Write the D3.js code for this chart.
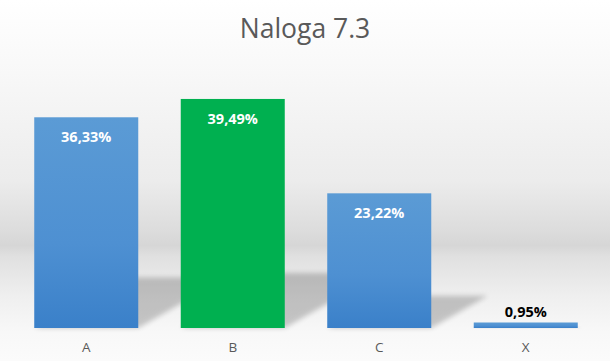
<!DOCTYPE html>
<html>
<head>
<meta charset="utf-8">
<script src="https://cdn.jsdelivr.net/npm/d3@7"></script>
<style>
  body { margin: 0; background: #fff; }
  svg { display: block; font-family: "Open Sans", sans-serif; }
</style>
</head>
<body>
<div id="wrapper"></div>
<script>
const categories = ["A", "B", "C", "X"];
const values = [36.33, 39.49, 23.22, 0.95];
const valueLabels = ["36,33%", "39,49%", "23,22%", "0,95%"];
const barColors = ["blue", "green", "blue", "blue"];

function buildChart() {
    const dimension = {
        width: 610,
        height: 361,
        margin: { top: 67, left: 13, bottom: 33, right: 11 }
    };
    dimension.boundedWidth = dimension.width - dimension.margin.left - dimension.margin.right;
    dimension.boundedHeight = dimension.height - dimension.margin.top - dimension.margin.bottom;

    const svg = d3.select("#wrapper").append("svg")
        .attr("width", dimension.width)
        .attr("height", dimension.height);

    const defs = svg.append("defs");

    // background: white at top, grey band, light floor
    const bg = defs.append("linearGradient")
        .attr("id", "bg").attr("x1", 0).attr("y1", 0).attr("x2", 0).attr("y2", 1);
    [[0, "#ffffff"], [0.2, "#f8f8f8"], [0.5, "#ececec"], [0.64, "#dcdcdc"], [0.68, "#d6d6d6"],
     [0.71, "#e0e0e0"], [0.82, "#efefef"], [0.92, "#f8f8f8"], [1, "#fbfbfb"]]
        .forEach(s => bg.append("stop").attr("offset", s[0]).attr("stop-color", s[1]));

    const blue = defs.append("linearGradient")
        .attr("id", "blue").attr("x1", 0).attr("y1", 0).attr("x2", 0).attr("y2", 1);
    blue.append("stop").attr("offset", 0).attr("stop-color", "#5b9bd5");
    blue.append("stop").attr("offset", 0.6).attr("stop-color", "#4e90d2");
    blue.append("stop").attr("offset", 1).attr("stop-color", "#3a80c9");

    defs.append("filter").attr("id", "blur")
        .attr("x", "-50%").attr("y", "-50%").attr("width", "200%").attr("height", "200%")
        .append("feGaussianBlur").attr("stdDeviation", 2.5);

    svg.append("rect")
        .attr("width", dimension.width)
        .attr("height", dimension.height)
        .attr("fill", "url(#bg)");

    svg.append("text")
        .attr("x", dimension.width / 2)
        .attr("y", 38)
        .attr("text-anchor", "middle")
        .attr("fill", "#595959")
        .style("font-size", "26.5px")
        .text("Naloga 7.3");

    const bounded = svg.append("g")
        .attr("transform", `translate(${dimension.margin.left}, ${dimension.margin.top})`);

    const xScaler = d3.scaleBand()
        .domain(categories)
        .range([0, dimension.boundedWidth])
        .paddingInner(0.29)
        .paddingOuter(0.145);

    const yScaler = d3.scaleLinear()
        .domain([0, 45])
        .range([dimension.boundedHeight, 0]);

    const data = categories.map((c, i) => ({ c, v: values[i], label: valueLabels[i], color: barColors[i] }));
    const base = yScaler(0);
    const bw = xScaler.bandwidth();

    // floor shadows
    bounded.append("g").selectAll("path")
        .data(data)
        .join("path")
        .attr("d", d => {
            const h = base - yScaler(d.v);
            const x0 = xScaler(d.c);
            const sh = h * 0.24;
            const dx = h * 0.42;
            return `M${x0},${base} L${x0 + bw},${base} L${x0 + bw + dx},${base - sh} L${x0 + dx},${base - sh} Z`;
        })
        .attr("fill", "#000")
        .attr("opacity", 0.2)
        .attr("filter", "url(#blur)");

    bounded.append("g").selectAll("rect")
        .data(data)
        .join("rect")
        .attr("x", d => xScaler(d.c))
        .attr("y", d => yScaler(d.v))
        .attr("width", bw)
        .attr("height", d => base - yScaler(d.v))
        .attr("fill", d => d.color === "green" ? "#00b050" : "url(#blue)");

    bounded.append("g").selectAll("text")
        .data(data)
        .join("text")
        .attr("x", d => xScaler(d.c) + bw / 2)
        .attr("y", d => {
            const inside = base - yScaler(d.v) > 30;
            return inside ? yScaler(d.v) + 25 : yScaler(d.v) - 5;
        })
        .attr("text-anchor", "middle")
        .attr("fill", d => base - yScaler(d.v) > 30 ? "#ffffff" : "#000000")
        .style("font-size", "14.5px")
        .style("font-weight", "bold")
        .text(d => d.label);

    const xAxis = d3.axisBottom(xScaler).tickSize(0).tickPadding(14);
    const axisG = bounded.append("g")
        .attr("transform", `translate(0, ${base})`)
        .call(xAxis);
    axisG.select(".domain").remove();
    axisG.selectAll("text")
        .attr("fill", "#595959")
        .style("font-size", "13.5px")
        .style("font-family", "\"Open Sans\", sans-serif");
}

buildChart();
</script>
</body>
</html>
